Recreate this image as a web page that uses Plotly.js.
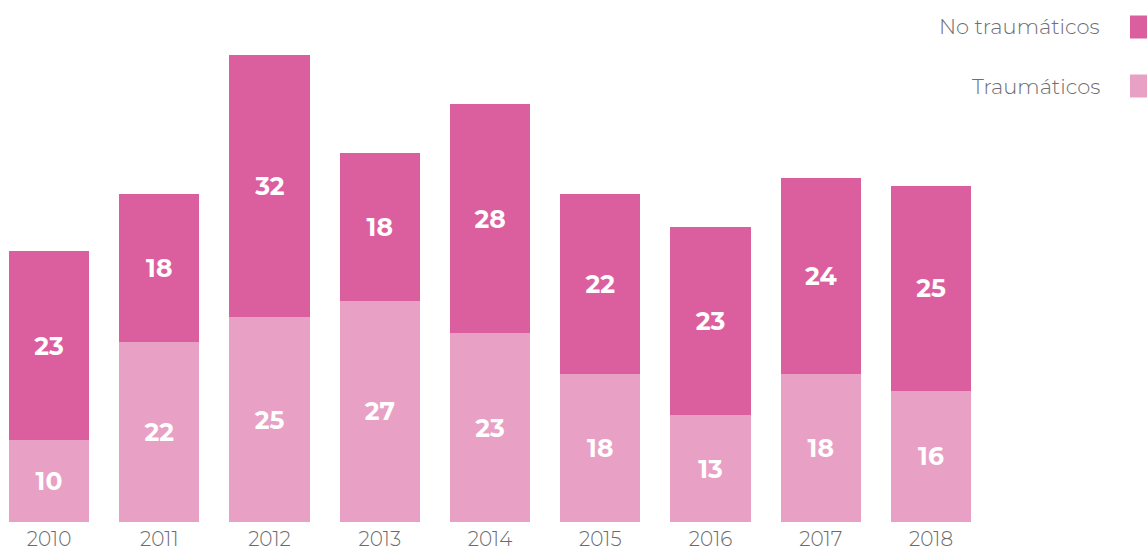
<!DOCTYPE html>
<html>
<head>
<meta charset="utf-8">
<script src="https://cdn.plot.ly/plotly-3.0.1.min.js"></script>
<style>html,body{margin:0;padding:0;background:#fff;}#chart{width:1147px;height:553px;}</style>
</head>
<body>
<div id="chart"></div>
<script>
const years = ['2010','2011','2012','2013','2014','2015','2016','2017','2018'];
const traumaticos = [10, 22, 25, 27, 23, 18, 13, 18, 16];
const noTraumaticos = [23, 18, 32, 18, 28, 22, 23, 24, 25];
const seriesNames = ['No traumáticos', 'Traumáticos'];

const colDark = '#DB5F9E';
const colLight = '#E8A1C4';
const labelFont = {family: 'Montserrat, "Open Sans", Lato, sans-serif', size: 25, color: '#ffffff', weight: 700};
const lightFont = 'Montserrat, Lato, "Open Sans", sans-serif';

const traces = [
  {
    type: 'bar', x: years, y: traumaticos, name: seriesNames[1],
    marker: {color: colLight},
    text: traumaticos.map(String), textposition: 'inside', insidetextanchor: 'middle',
    textfont: labelFont, hoverinfo: 'x+y+name', showlegend: false
  },
  {
    type: 'bar', x: years, y: noTraumaticos, name: seriesNames[0],
    marker: {color: colDark},
    text: noTraumaticos.map(String), textposition: 'inside', insidetextanchor: 'middle',
    textfont: labelFont, hoverinfo: 'x+y+name', showlegend: false
  }
];

const legendColors = [colDark, colLight];
const legendY = [27, 86];
const H = 553, W = 1147, PH = H - 31;
const annotations = seriesNames.map((n, i) => ({
  xref: 'paper', yref: 'paper', x: 1102 / W, y: 1 - legendY[i] / PH,
  xanchor: 'right', yanchor: 'middle', text: n, showarrow: false,
  font: {family: lightFont, size: 21, color: '#6e6e73', weight: 300}
}));
const shapes = seriesNames.map((n, i) => ({
  type: 'rect', xref: 'paper', yref: 'paper', layer: 'above',
  x0: 1130 / W, x1: 1147 / W,
  y0: 1 - (legendY[i] + 11.5) / PH, y1: 1 - (legendY[i] - 11.5) / PH,
  fillcolor: legendColors[i], line: {width: 0}
}));

const layout = {
  width: W, height: H,
  margin: {l: 0, r: 0, t: 0, b: 31, pad: 0},
  barmode: 'stack', bargap: 0.274,
  paper_bgcolor: '#ffffff', plot_bgcolor: '#ffffff',
  showlegend: false,
  xaxis: {
    type: 'category', range: [-0.4444, 9.959], showgrid: false, zeroline: false,
    showline: false, ticks: '', ticklabelstandoff: 3,
    tickfont: {family: lightFont, size: 20, color: '#6b6b6b', weight: 300}
  },
  yaxis: {range: [0, 63.66], visible: false, showgrid: false, zeroline: false},
  annotations: annotations,
  shapes: shapes,
  font: {family: lightFont}
};

Plotly.newPlot('chart', traces, layout, {displayModeBar: false, staticPlot: true});
</script>
</body>
</html>
